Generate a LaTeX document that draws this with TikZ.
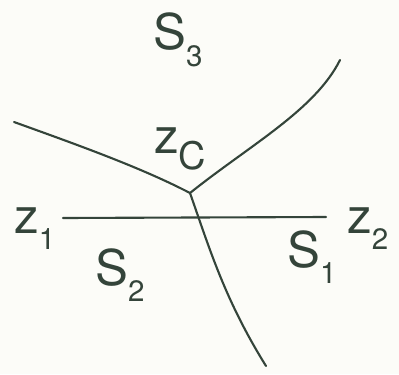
\documentclass[tikz,border=0pt]{standalone}
\usepackage{fontspec}
\setmainfont{TeX Gyre Heros}
\usepackage{tikz}
\usepackage{xcolor}
\definecolor{inkgreen}{HTML}{34443A}
\definecolor{paper}{HTML}{FCFCF8}
\newcommand{\lsub}[2][21]{\raisebox{-12pt}{\fontsize{#1}{#1}\selectfont #2}}
\tikzset{
  branchLine/.style={line width=1.5pt, draw=inkgreen, line cap=round},
  regionLabel/.style={font=\fontsize{35}{35}\selectfont, text=inkgreen, inner sep=0pt, anchor=base west}
}

\begin{document}
\begin{tikzpicture}[x=0.025cm,y=-0.025cm]
  \fill[paper] (0,0) rectangle (399,374);
  \useasboundingbox (0,0) rectangle (399,374);
  \coordinate (zc) at (190,193);
  \coordinate (leftEnd) at (14,122);
  \coordinate (rightEnd) at (340,60);
  \coordinate (downEnd) at (266,366);
  \coordinate (lineL) at (63,218);
  \coordinate (lineR) at (326,217);
  \draw[branchLine] (leftEnd) .. controls (75,144) and (140,167) .. (zc);
  \draw[branchLine] (zc) .. controls (250,145) and (315,110) .. (rightEnd);
  \draw[branchLine] (zc) .. controls (210,250) and (225,300) .. (downEnd);
  \draw[branchLine] (lineL) -- (lineR);
  \node[regionLabel] (s3) at (153,50) {S\lsub{3}};
  \node[regionLabel] (zC) at (154,153) {z\lsub[27]{C}};
  \node[regionLabel] (z1) at (14,233) {z\lsub{1}};
  \node[regionLabel] (z2) at (347,233) {z\lsub{2}};
  \node[regionLabel] (s2) at (95,285) {S\lsub{2}};
  \node[regionLabel] (s1) at (287,267) {S\lsub{1}};
\end{tikzpicture}
\end{document}
